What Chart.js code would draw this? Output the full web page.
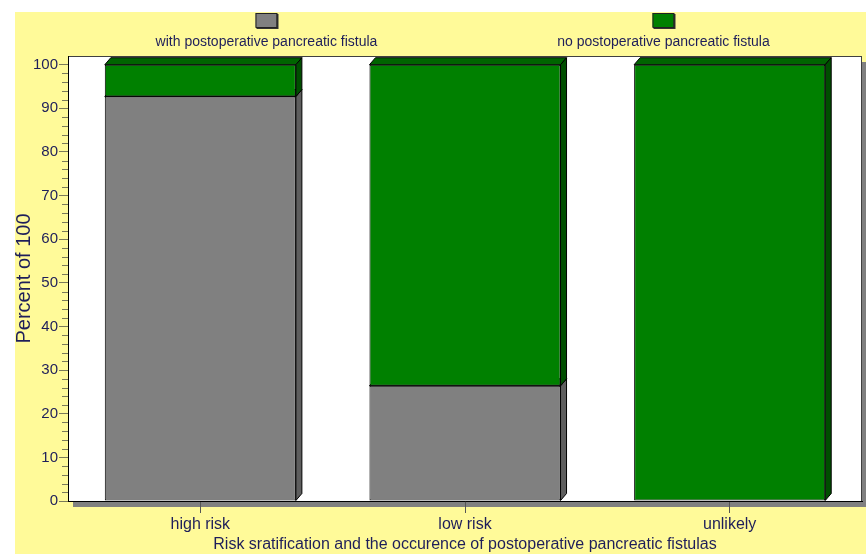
<!DOCTYPE html>
<html>
<head>
<meta charset="utf-8">
<script src="https://cdn.jsdelivr.net/npm/chart.js@4.4.1/dist/chart.umd.min.js"></script>
<style>
  html, body { margin:0; padding:0; background:#fff; }
  #wrap { position:absolute; left:15px; top:12px; width:851px; height:542px; background:#fffa99; overflow:hidden; }
</style>
</head>
<body>
<div id="wrap"><canvas id="chart" width="851" height="542"></canvas></div>
<script>
// =======================
// Data
// =======================
const categories = ["high risk", "low risk", "unlikely"];
const seriesNames = ["with postoperative pancreatic fistula", "no postoperative pancreatic fistula"];
const withFistula = [92.7, 26.4, 0];
const noFistula = [7.3, 73.6, 100];
const yMinorStep = 2;

const TEXT = "#1e1e5a";
const FONT = '"Liberation Sans", Arial, sans-serif';
Chart.defaults.font.family = FONT;

// =======================
// Plot box (white area + drop shadow)
// =======================
const plotBox = {
  id: "plotBox",
  beforeDraw(chart) {
    const { ctx, chartArea: a } = chart;
    ctx.save();
    ctx.fillStyle = "#808080";
    ctx.fillRect(a.left + 5, a.top + 6, a.width, a.height);
    ctx.fillStyle = "#fff";
    ctx.fillRect(a.left, a.top, a.width, a.height);
    ctx.strokeStyle = "#404040";
    ctx.lineWidth = 1;
    ctx.strokeRect(a.left + 0.5, a.top + 0.5, a.width - 1, a.height);
    ctx.restore();
  }
};

// =======================
// 3D depth faces of the bars
// =======================
const bar3d = {
  id: "bar3d",
  beforeDatasetsDraw(chart) {
    const ctx = chart.ctx;
    const dx = 6, dy = 7;
    chart.data.datasets.forEach((ds, i) => {
      chart.getDatasetMeta(i).data.forEach(bar => {
        const p = bar.getProps(["x", "y", "base", "width"], true);
        if (Math.abs(p.base - p.y) < 0.5) return;
        const l = p.x - p.width / 2, r = p.x + p.width / 2;
        const t = Math.min(p.y, p.base), b = Math.max(p.y, p.base);
        ctx.save();
        ctx.strokeStyle = "#000";
        ctx.lineWidth = 1;
        ctx.beginPath();
        ctx.moveTo(l, t); ctx.lineTo(l + dx, t - dy); ctx.lineTo(r + dx, t - dy); ctx.lineTo(r, t);
        ctx.closePath();
        ctx.fillStyle = ds.topColor; ctx.fill(); ctx.stroke();
        ctx.beginPath();
        ctx.moveTo(r, t); ctx.lineTo(r + dx, t - dy); ctx.lineTo(r + dx, b - dy); ctx.lineTo(r, b);
        ctx.closePath();
        ctx.fillStyle = ds.sideColor; ctx.fill(); ctx.stroke();
        ctx.restore();
      });
    });
  }
};

// =======================
// Minor ticks on y axis
// =======================
const minorTicks = {
  id: "minorTicks",
  afterDraw(chart) {
    const { ctx } = chart;
    const y = chart.scales.y;
    ctx.save();
    ctx.strokeStyle = "#7a7a5a";
    ctx.lineWidth = 1;
    for (let v = 0; v <= 100; v += yMinorStep) {
      if (v % 10 === 0) continue;
      const py = Math.round(y.getPixelForValue(v)) + 0.5;
      ctx.beginPath();
      ctx.moveTo(y.right - 6, py);
      ctx.lineTo(y.right, py);
      ctx.stroke();
    }
    ctx.restore();
  }
};

// =======================
// Legend on top (box above label)
// =======================
const topLegend = {
  id: "topLegend",
  afterDraw(chart) {
    const { ctx, chartArea: a } = chart;
    const n = chart.data.datasets.length;
    ctx.save();
    chart.data.datasets.forEach((ds, i) => {
      const cx = a.left + (i + 0.5) * a.width / n;
      ctx.fillStyle = "#333";
      ctx.fillRect(cx - 11 + 1, 2, 22, 15);
      ctx.fillStyle = ds.backgroundColor;
      ctx.fillRect(cx - 11, 1, 21, 14);
      ctx.strokeStyle = "#222";
      ctx.strokeRect(cx - 10.5, 1.5, 21, 14);
      ctx.fillStyle = TEXT;
      ctx.font = "14px " + FONT;
      ctx.textAlign = "center";
      ctx.textBaseline = "middle";
      ctx.fillText(ds.label, cx, 30);
    });
    ctx.restore();
  }
};

new Chart(document.getElementById("chart"), {
  type: "bar",
  data: {
    labels: categories,
    datasets: [
      { label: seriesNames[0], data: withFistula, backgroundColor: "#808080", topColor: "#6e6e6e", sideColor: "#5e5e5e",
        borderColor: "#000", borderWidth: 1, borderSkipped: false },
      { label: seriesNames[1], data: noFistula, backgroundColor: "#008000", topColor: "#006400", sideColor: "#004e00",
        borderColor: "#000", borderWidth: 1, borderSkipped: false }
    ]
  },
  options: {
    responsive: false,
    animation: false,
    layout: { padding: { top: 44, right: 4, left: 0, bottom: 0 } },
    plugins: { legend: { display: false }, tooltip: { enabled: false } },
    datasets: { bar: { barPercentage: 0.722, categoryPercentage: 1 } },
    scales: {
      x: {
        stacked: true,
        grid: { offset: false, drawOnChartArea: false, tickLength: 12, color: "#555" },
        border: { color: "#000" },
        ticks: { color: TEXT, font: { size: 16 }, padding: 2, maxRotation: 0 },
        title: { display: true, text: "Risk sratification and the occurence of postoperative pancreatic fistulas",
                 color: TEXT, font: { size: 16 }, padding: 0 },
        afterFit(s) { s.height = 53; }
      },
      y: {
        stacked: true,
        min: 0,
        max: 102,
        ticks: { stepSize: 10, includeBounds: false, color: TEXT, font: { size: 15 }, padding: 1 },
        grid: { drawOnChartArea: false, tickLength: 9, color: "#7a7a5a" },
        border: { color: "#000" },
        title: { display: true, text: "Percent of 100", color: TEXT, font: { size: 20 }, padding: { top: -3, bottom: 0 } },
        afterFit(s) { s.width = 53; }
      }
    }
  },
  plugins: [plotBox, bar3d, minorTicks, topLegend]
});
</script>
</body>
</html>
